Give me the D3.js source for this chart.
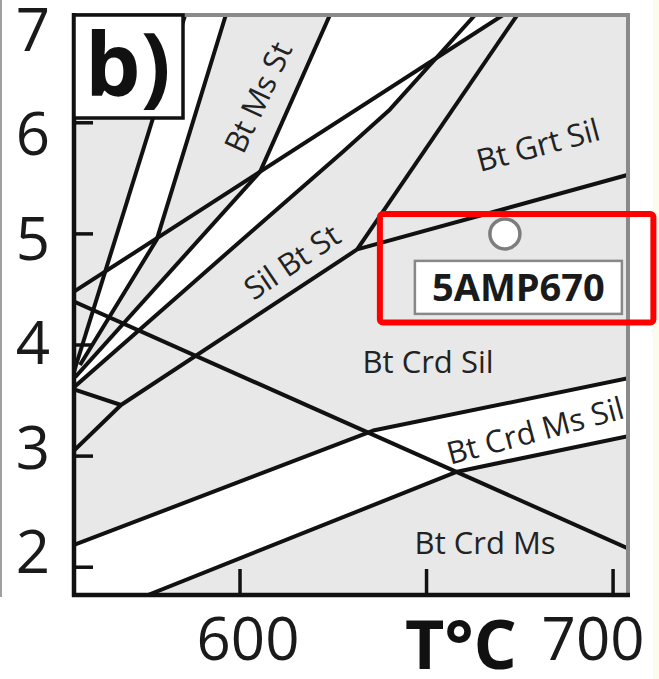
<!DOCTYPE html>
<html>
<head>
<meta charset="utf-8">
<script src="https://cdn.jsdelivr.net/npm/d3@7"></script>
<style>
  html, body { margin: 0; padding: 0; background: #fff; }
  svg { display: block; font-family: "Open Sans", sans-serif; }
</style>
</head>
<body>
<div id="chart"></div>
<script>
// axis ranges, T in °C, P in kbar
const tempDomain = [555.5, 704];
const presDomain = [1.75, 6.97];
const xTicks = [600, 650, 700];
const yTicks = [2, 3, 4, 5, 6];
const yTickLabels = [2, 3, 4, 5, 6, 7];

// reaction lines, [T, P]
const lineS1 = [[585.3, 6.97], [555.5, 3.76]];
const lineS2 = [[596.2, 6.97], [577.7, 4.95], [557.1, 3.82]];
const lineS3 = [[624.1, 6.97], [605.4, 5.56]];
const lineL1 = [[555.5, 4.48], [670.5, 6.97]];
const lineL2 = [[555.8, 3.71], [605.4, 5.56]];
const lineL3 = [[555.5, 3.62], [584.7, 4.48], [605.4, 5.09], [627.6, 5.74], [640.2, 6.12], [657.6, 6.77], [663.0, 6.97]];
const lineD  = [[555.5, 4.39], [704.0, 2.17]];
const lineE  = [[555.5, 3.05], [568.1, 3.46], [631.4, 4.86], [703.8, 5.53]];
const lineF  = [[555.5, 3.60], [568.1, 3.46]];
const lineG  = [[631.4, 4.86], [674.3, 6.97]];
const lineA  = [[555.5, 2.20], [635.7, 3.23], [704.0, 3.70]];
const lineB  = [[575.3, 1.75], [658.2, 2.86], [704.0, 3.18]];
const allLines = [lineS1, lineS2, lineS3, lineL1, lineL2, lineL3, lineD, lineE, lineF, lineG, lineA, lineB];

// field labels
const fieldNames = ["Bt Ms St", "Sil Bt St", "Bt Grt Sil", "Bt Crd Sil", "Bt Crd Ms Sil", "Bt Crd Ms"];
const fieldPos = [[604.8, 6.23], [613.9, 4.75], [679.9, 5.80], [650.4, 3.85], [679.1, 3.23], [665.7, 2.22]];
const fieldAngle = [-65, -34, -15, 0, -15, 0];

// sample
const sampleName = "5AMP670";
const samplePT = [671.0, 5.0];

const W = 659, H = 679;
const svg = d3.select('#chart').append('svg').attr('width', W).attr('height', H);

const x = d3.scaleLinear().domain(tempDomain).range([74, 628]);
const y = d3.scaleLinear().domain(presDomain).range([595, 15]);
const yLab = d3.scaleLinear().domain([2, 7]).range([552, 30]); // labels sit a bit off the ticks in the original

// page edges
svg.append('rect').attr('x', 0).attr('y', 0).attr('width', 2).attr('height', 597).attr('fill', '#a0a0a0');
svg.append('rect').attr('x', 653).attr('y', 0).attr('width', 6).attr('height', H).attr('fill', '#fbfbee');

svg.append('clipPath').attr('id', 'plot')
  .append('rect').attr('x', x(tempDomain[0])).attr('y', y(presDomain[1]))
  .attr('width', x(tempDomain[1]) - x(tempDomain[0])).attr('height', y(presDomain[0]) - y(presDomain[1]));

const g = svg.append('g').attr('clip-path', 'url(#plot)');

g.append('rect').attr('x', x(tempDomain[0])).attr('y', y(presDomain[1]))
  .attr('width', x(tempDomain[1]) - x(tempDomain[0])).attr('height', y(presDomain[0]) - y(presDomain[1]))
  .attr('fill', '#e8e8e8');

function intersect(a, b) {
  for (let i = 0; i < a.length - 1; i++) {
    for (let j = 0; j < b.length - 1; j++) {
      const [x1, y1] = a[i], [x2, y2] = a[i + 1], [x3, y3] = b[j], [x4, y4] = b[j + 1];
      const den = (x1 - x2) * (y3 - y4) - (y1 - y2) * (x3 - x4);
      if (!den) continue;
      const t = ((x1 - x3) * (y3 - y4) - (y1 - y3) * (x3 - x4)) / den;
      const u = -((x1 - x2) * (y1 - y3) - (y1 - y2) * (x1 - x3)) / den;
      if (t >= 0 && t <= 1 && u >= 0 && u <= 1) return [x1 + t * (x2 - x1), y1 + t * (y2 - y1)];
    }
  }
  return null;
}

// white fields
const x13 = intersect(lineL1, lineL3);
const whiteFields = [
  [lineS1[0], ...lineS2, lineS1[1]],
  [lineS3[0], lineS3[1], lineL1[1]],
  [...lineL2, x13, ...lineL3.filter(p => p[0] < x13[0]).reverse()],
  [...lineA, ...lineB.slice().reverse(), [tempDomain[0], presDomain[0]]]
];

const line = d3.line().x(d => x(d[0])).y(d => y(d[1]));

g.selectAll('path.field').data(whiteFields).enter().append('path')
  .attr('class', 'field').attr('d', d => line(d) + 'Z').attr('fill', '#fff');

g.selectAll('path.rx').data(allLines).enter().append('path')
  .attr('class', 'rx').attr('d', line).attr('fill', 'none')
  .attr('stroke', '#111').attr('stroke-width', 4).attr('stroke-linejoin', 'round');

// field names
g.selectAll('text.fld').data(fieldNames).enter().append('text')
  .attr('class', 'fld')
  .attr('transform', (d, i) => `translate(${x(fieldPos[i][0])},${y(fieldPos[i][1])}) rotate(${fieldAngle[i]})`)
  .attr('text-anchor', 'middle').attr('dy', '0.36em')
  .attr('font-size', 31).attr('fill', '#222').text(d => d);

// ticks
svg.selectAll('line.yt').data(yTicks).enter().append('line')
  .attr('x1', 74).attr('x2', 93).attr('y1', d => y(d)).attr('y2', d => y(d))
  .attr('stroke', '#111').attr('stroke-width', 3.5);
svg.selectAll('line.xt').data(xTicks).enter().append('line')
  .attr('x1', d => x(d)).attr('x2', d => x(d)).attr('y1', 595).attr('y2', 569)
  .attr('stroke', '#111').attr('stroke-width', 3.5);

// frame
svg.append('line').attr('x1', 74).attr('x2', 630).attr('y1', 15).attr('y2', 15).attr('stroke', '#8a8a8a').attr('stroke-width', 4);
svg.append('line').attr('x1', 628).attr('x2', 628).attr('y1', 13).attr('y2', 596).attr('stroke', '#8a8a8a').attr('stroke-width', 4);
svg.append('line').attr('x1', 74).attr('x2', 74).attr('y1', 13).attr('y2', 597).attr('stroke', '#111').attr('stroke-width', 4.5);
svg.append('line').attr('x1', 72).attr('x2', 630).attr('y1', 595).attr('y2', 595).attr('stroke', '#111').attr('stroke-width', 4.5);

// panel tag
svg.append('rect').attr('x', 74).attr('y', 15).attr('width', 109).attr('height', 103)
  .attr('fill', '#fff').attr('stroke', '#111').attr('stroke-width', 3.5);
svg.append('text').attr('x', 85).attr('y', 96).attr('font-size', 88).attr('font-weight', 700)
  .attr('fill', '#111').text('b)');

// axis labels
svg.selectAll('text.yl').data(yTickLabels).enter().append('text')
  .attr('x', 50).attr('y', d => yLab(d) + 21).attr('text-anchor', 'end')
  .attr('font-size', 60).attr('fill', '#1a1a1a').text(d => d);
svg.append('text').attr('x', x(600) + 8).attr('y', 660).attr('text-anchor', 'middle')
  .attr('font-size', 60).attr('fill', '#1a1a1a').text('600');
svg.append('text').attr('x', x(700) - 20).attr('y', 660).attr('text-anchor', 'middle')
  .attr('font-size', 60).attr('fill', '#1a1a1a').text('700');
svg.append('text').attr('x', 461).attr('y', 669).attr('text-anchor', 'middle')
  .attr('font-size', 68).attr('font-weight', 700).attr('fill', '#111').text('T°C');

// sample point and its label
const sx = x(samplePT[0]), sy = y(samplePT[1]);
svg.append('circle').attr('cx', sx).attr('cy', sy).attr('r', 15)
  .attr('fill', '#fff').attr('stroke', '#7d7d7d').attr('stroke-width', 3.5);
svg.append('rect').attr('x', sx - 90).attr('y', sy + 27).attr('width', 207).attr('height', 53)
  .attr('fill', '#fff').attr('stroke', '#888').attr('stroke-width', 2.5);
svg.append('text').attr('x', sx + 13.5).attr('y', sy + 53.5).attr('dy', '0.36em')
  .attr('text-anchor', 'middle').attr('font-size', 38).attr('font-weight', 700)
  .attr('fill', '#1a1a1a').text(sampleName);
svg.append('rect').attr('x', sx - 125).attr('y', sy - 20).attr('width', 273.5).attr('height', 108.5)
  .attr('rx', 3).attr('fill', 'none').attr('stroke', '#ff0000').attr('stroke-width', 6);
</script>
</body>
</html>
